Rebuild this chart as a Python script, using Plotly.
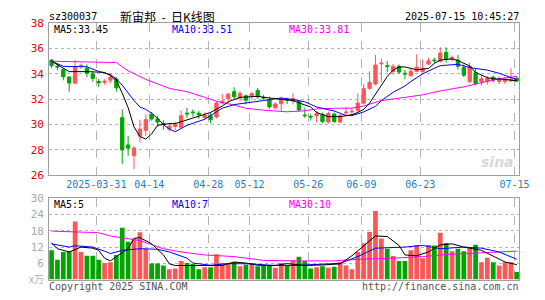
import plotly.graph_objects as go

W, H = 545, 300

dates = [
    "2025-03-19", "2025-03-20", "2025-03-21", "2025-03-24", "2025-03-25", "2025-03-26", "2025-03-27", "2025-03-28", "2025-03-31",
    "2025-04-01", "2025-04-02", "2025-04-03", "2025-04-07", "2025-04-08", "2025-04-09", "2025-04-10", "2025-04-11", "2025-04-14",
    "2025-04-15", "2025-04-16", "2025-04-17", "2025-04-18", "2025-04-21", "2025-04-22", "2025-04-23", "2025-04-24", "2025-04-25",
    "2025-04-28", "2025-04-29", "2025-04-30",
    "2025-05-06", "2025-05-07", "2025-05-08", "2025-05-09", "2025-05-12", "2025-05-13", "2025-05-14", "2025-05-15", "2025-05-16",
    "2025-05-19", "2025-05-20", "2025-05-21", "2025-05-22", "2025-05-23", "2025-05-26", "2025-05-27", "2025-05-28", "2025-05-29",
    "2025-05-30",
    "2025-06-03", "2025-06-04", "2025-06-05", "2025-06-06", "2025-06-09", "2025-06-10", "2025-06-11", "2025-06-12", "2025-06-13",
    "2025-06-16", "2025-06-17", "2025-06-18", "2025-06-19", "2025-06-20", "2025-06-23", "2025-06-24", "2025-06-25", "2025-06-26",
    "2025-06-27", "2025-06-30",
    "2025-07-01", "2025-07-02", "2025-07-03", "2025-07-04", "2025-07-07", "2025-07-08", "2025-07-09", "2025-07-10", "2025-07-11",
    "2025-07-14", "2025-07-15",
]

opens = [35.1, 34.6, 34.33, 33.75, 33.28, 34.62, 34.45, 34.0, 33.4, 33.35,
         33.5, 33.6, 30.55, 28.4, 27.55, 29.1, 29.55, 30.8, 30.45, 30.1,
         29.65, 29.85, 29.8, 30.9, 31.0, 30.9, 30.55, 30.7, 30.6, 31.7,
         32.05, 32.6, 32.1, 32.28, 32.28, 32.7, 32.15, 31.95, 31.33, 31.65,
         31.98, 31.85, 31.83, 30.75, 30.65, 30.7, 30.78, 30.2, 30.83, 30.2,
         30.93, 31.0, 31.1, 31.7, 32.85, 33.2, 34.8, 34.65, 34.2, 34.6,
         34.05, 33.85, 34.2, 34.2, 34.78, 35.1, 35.0, 35.7, 35.15, 35.1,
         34.5, 33.4, 34.1, 33.37, 33.4, 33.75, 33.4, 33.4, 33.45, 33.65]
highs = [35.15, 34.8, 34.45, 33.83, 35.1, 34.83, 34.75, 34.2, 33.6, 33.58,
         34.0, 33.75, 31.2, 29.1, 28.3, 30.4, 30.8, 31.0, 30.7, 30.35,
         30.13, 30.2, 31.1, 31.33, 31.2, 31.08, 30.95, 30.95, 31.85, 32.4,
         32.5, 32.95, 32.65, 32.35, 32.58, 32.9, 32.33, 32.2, 31.78, 32.2,
         32.13, 32.5, 31.95, 31.33, 30.83, 31.08, 30.95, 31.03, 30.95, 30.85,
         31.38, 31.33, 32.45, 33.2, 34.2, 35.5, 35.2, 35.03, 34.78, 34.75,
         34.33, 34.4, 35.55, 35.13, 35.28, 35.28, 36.1, 36.1, 35.45, 35.5,
         34.75, 34.9, 34.4, 33.9, 33.85, 33.85, 33.8, 33.75, 34.45, 33.8]
lows = [34.45, 34.3, 33.5, 32.6, 33.2, 34.4, 33.75, 33.38, 32.95, 33.15,
        33.3, 32.6, 26.9, 27.55, 26.5, 28.6, 29.1, 30.3, 29.85, 29.6,
        29.45, 29.58, 29.7, 30.53, 30.63, 30.45, 30.4, 30.1, 30.5, 31.6,
        31.7, 32.0, 31.85, 31.6, 31.95, 32.03, 31.95, 31.25, 31.2, 31.08,
        31.63, 31.58, 31.03, 30.53, 30.33, 30.2, 30.13, 30.08, 30.13, 30.1,
        30.63, 30.7, 31.03, 31.6, 32.78, 33.1, 33.38, 34.13, 33.95, 34.0,
        33.58, 33.8, 34.13, 34.08, 34.7, 34.83, 34.9, 34.9, 35.0, 34.35,
        33.75, 33.25, 33.1, 33.1, 33.15, 33.35, 33.2, 33.2, 33.35, 33.35]
closes = [34.65, 34.55, 33.78, 33.28, 34.58, 34.67, 34.05, 33.65, 33.3, 33.42,
          33.75, 32.9, 28.0, 28.15, 28.15, 29.65, 30.4, 30.45, 30.2, 30.05,
          29.88, 30.0, 30.7, 30.85, 30.95, 30.8, 30.75, 30.4, 31.7, 31.85,
          32.4, 32.2, 32.45, 31.93, 32.45, 32.2, 32.1, 31.4, 31.63, 32.03,
          31.93, 32.05, 31.15, 30.7, 30.6, 30.88, 30.25, 30.88, 30.25, 30.7,
          30.98, 31.05, 31.7, 32.83, 33.33, 34.7, 34.85, 34.6, 34.6, 34.15,
          34.0, 34.2, 34.53, 34.45, 35.03, 35.05, 35.65, 35.15, 35.3, 34.6,
          33.9, 34.6, 33.25, 33.62, 33.65, 33.5, 33.55, 33.55, 33.6, 33.45]
volumes = [10.8, 7.3, 10.2, 10.5, 21.4, 10.2, 8.8, 8.8, 7.3, 6.1,
           6.4, 9.1, 19.1, 14.0, 15.2, 17.5, 11.4, 5.9, 5.9, 5.2,
           3.8, 4.1, 6.9, 6.1, 5.8, 3.8, 4.6, 4.6, 9.4, 6.1,
           6.1, 6.5, 4.9, 5.5, 6.1, 4.9, 5.0, 5.0, 4.4, 6.1,
           5.2, 7.1, 8.4, 6.9, 4.1, 4.6, 4.9, 4.4, 4.7, 6.4,
           5.2, 3.8, 10.2, 13.4, 17.6, 25.3, 15.2, 11.4, 8.7, 6.9,
           6.9, 10.8, 12.8, 7.9, 12.8, 12.6, 17.3, 13.5, 10.5, 11.4,
           10.5, 11.6, 12.9, 6.4, 8.1, 6.4, 5.2, 6.4, 6.4, 2.8]

# moving-average lines (index, value)
ma5_idx = [0, 2, 3, 6, 9, 10, 11, 12, 13, 14, 15, 16, 17, 18, 20, 21, 23, 25, 27, 29, 30, 32, 34, 35, 37, 39,
           41, 42, 44, 45, 47, 49, 50, 51, 52, 53, 54, 55, 56, 57, 58, 59, 60, 61, 62, 64, 65, 66, 68, 69, 71,
           72, 74, 75, 77, 79]
ma5_val = [35.0, 34.43, 34.18, 34.18, 34.12, 33.87, 33.49, 32.48, 31.34, 29.82, 29.06, 28.86, 29.27, 29.95,
           30.08, 30.08, 30.38, 30.63, 30.96, 31.47, 31.8, 32.15, 32.2, 32.23, 32.1, 31.98, 31.9, 31.72, 31.39,
           30.96, 30.63, 30.63, 30.71, 30.78, 30.96, 31.2, 31.7, 32.4, 33.1, 33.8, 34.3, 34.55, 34.55, 34.43,
           34.33, 34.43, 34.83, 35.09, 35.19, 35.05, 34.63, 34.12, 33.7, 33.62, 33.57, 33.45]
ma10_idx = [0, 1, 2, 6, 8, 10, 11, 12, 13, 14, 15, 16, 17, 18, 19, 20, 21, 23, 26, 29, 31, 34, 36, 39, 41,
            43, 45, 48, 50, 51, 53, 55, 56, 58, 60, 61, 63, 65, 66, 69, 71, 74, 76, 79]
ma10_val = [35.0, 34.8, 34.6, 34.56, 34.2, 33.95, 33.6, 33.11, 32.5, 31.9, 31.39, 31.2, 30.9, 30.5, 30.0,
            29.65, 29.44, 29.95, 30.42, 31.3, 31.58, 31.74, 31.9, 32.1, 31.98, 31.8, 31.39, 31.07, 30.72,
            30.71, 31.0, 31.45, 31.9, 32.55, 33.05, 33.4, 34.0, 34.45, 34.65, 34.76, 34.5, 34.3, 34.05, 33.55]
ma30_idx = [0, 11, 13, 16, 20, 23, 26, 28, 31, 33, 36, 40, 43, 45, 48, 51, 53, 56, 60, 63, 66, 70, 73, 76, 79]
ma30_val = [35.0, 34.9, 34.25, 33.57, 32.86, 32.6, 32.15, 31.85, 31.54, 31.29, 31.14, 31.01, 31.09, 31.24,
            31.29, 31.3, 31.47, 31.9, 32.15, 32.35, 32.66, 32.98, 33.31, 33.62, 33.81]

vma5_idx = [0, 1, 3, 5, 7, 8, 9, 10, 11, 13, 14, 15, 17, 19, 20, 21, 26, 29, 31, 33, 35, 38, 40, 43, 46, 49,
            51, 54, 55, 57, 59, 60, 62, 64, 66, 68, 70, 73, 75, 77, 79]
vma5_val = [13.5, 11.4, 10.2, 12.0, 11.6, 10.8, 7.9, 6.9, 8.5, 11.4, 15.2, 15.5, 13.2, 9.1, 5.8, 5.2, 5.2,
            5.2, 6.5, 6.1, 5.3, 5.2, 5.9, 5.2, 5.4, 5.8, 8.8, 14.4, 16.1, 15.9, 12.6, 9.1, 8.8, 10.2, 12.8,
            13.2, 12.0, 10.8, 8.5, 6.5, 5.5]
vma10_idx = [0, 3, 4, 7, 9, 10, 12, 15, 18, 20, 23, 24, 27, 30, 34, 37, 41, 45, 49, 52, 55, 60, 63, 66, 70,
             73, 76, 79]
vma10_val = [13.2, 12.0, 12.5, 12.0, 10.5, 9.6, 10.8, 11.4, 11.2, 10.2, 7.9, 6.1, 5.3, 5.9, 5.8, 5.3, 5.2,
             5.5, 6.0, 8.5, 11.6, 12.0, 12.6, 11.4, 12.0, 11.6, 10.2, 7.5]
vma30_idx = [0, 5, 8, 10, 15, 19, 22, 26, 31, 36, 41, 48, 52, 58, 63, 68, 73, 79]
vma30_val = [17.9, 17.6, 17.3, 16.1, 14.4, 11.4, 10.2, 9.1, 8.5, 7.1, 6.9, 6.9, 7.5, 7.9, 8.5, 9.4, 10.0, 10.5]

tick_dates = ["2025-03-31", "2025-04-14", "2025-04-28", "2025-05-12", "2025-05-26",
              "2025-06-09", "2025-06-23", "2025-07-15"]
tick_text = ["2025-03-31", "04-14", "04-28", "05-12", "05-26", "06-09", "06-23", "07-15"]
price_ticks = [26, 28, 30, 32, 34, 36, 38]
vol_ticks = [6, 12, 18, 24, 30]

RED = "#ff5555"
GREEN = "#00a600"
MONO = "DejaVu Sans Mono"

x = list(range(len(dates)))
tick_pos = [dates.index(d) - 0.4 for d in tick_dates]
vol_colors = [RED if c >= o else GREEN for o, c in zip(opens, closes)]

fig = go.Figure()
fig.add_trace(go.Candlestick(
    x=x, open=opens, high=highs, low=lows, close=closes,
    increasing=dict(line=dict(color=RED, width=1), fillcolor=RED),
    decreasing=dict(line=dict(color=GREEN, width=1), fillcolor=GREEN),
    whiskerwidth=0, hoverinfo="skip", showlegend=False, xaxis="x", yaxis="y"))
fig.add_trace(go.Scatter(x=ma30_idx, y=ma30_val, mode="lines", line=dict(color="#ff00ff", width=1),
                         showlegend=False, hoverinfo="skip", xaxis="x", yaxis="y"))
fig.add_trace(go.Scatter(x=ma10_idx, y=ma10_val, mode="lines", line=dict(color="#0000ff", width=1),
                         showlegend=False, hoverinfo="skip", xaxis="x", yaxis="y"))
fig.add_trace(go.Scatter(x=ma5_idx, y=ma5_val, mode="lines", line=dict(color="#000000", width=1),
                         showlegend=False, hoverinfo="skip", xaxis="x", yaxis="y"))

fig.add_trace(go.Bar(x=x, y=volumes, marker=dict(color=vol_colors, line=dict(width=0)), width=0.8,
                     showlegend=False, hoverinfo="skip", xaxis="x2", yaxis="y2"))
fig.add_trace(go.Scatter(x=vma30_idx, y=vma30_val, mode="lines", line=dict(color="#ff00ff", width=1),
                         showlegend=False, hoverinfo="skip", xaxis="x2", yaxis="y2"))
fig.add_trace(go.Scatter(x=vma10_idx, y=vma10_val, mode="lines", line=dict(color="#0000ff", width=1),
                         showlegend=False, hoverinfo="skip", xaxis="x2", yaxis="y2"))
fig.add_trace(go.Scatter(x=vma5_idx, y=vma5_val, mode="lines", line=dict(color="#000000", width=1),
                         showlegend=False, hoverinfo="skip", xaxis="x2", yaxis="y2"))

xdom = [50 / W, 529 / W]
xrange = [-0.42, len(dates) - 0.58]
common_x = dict(domain=xdom, range=xrange, tickvals=tick_pos, showgrid=True, griddash="dash",
                gridcolor="#b4b4b4", gridwidth=1, showline=True, mirror=True, linecolor="#a0a0a0",
                linewidth=1, ticks="", zeroline=False, fixedrange=True)
fig.update_layout(
    width=W, height=H, margin=dict(l=0, r=0, t=0, b=0),
    paper_bgcolor="white", plot_bgcolor="white", boxgap=0.2, bargap=0.2,
    xaxis=dict(**common_x, anchor="y", ticktext=tick_text, showticklabels=True,
               tickfont=dict(family=MONO, size=10, color="#1a7fcf"),
               rangeslider=dict(visible=False)),
    xaxis2=dict(**common_x, anchor="y2", showticklabels=False, matches="x"),
    yaxis=dict(domain=[1 - 177 / H, 1 - 18 / H], range=[26, 38], tickvals=price_ticks,
               tickfont=dict(family=MONO, size=11, color="#ee0000"), showgrid=True, griddash="dot",
               gridcolor="#b4b4b4", showline=True, mirror=True, linecolor="#a0a0a0", ticks="",
               zeroline=False, anchor="x", ticklabelstandoff=2),
    yaxis2=dict(domain=[1 - 286 / H, 1 - 201 / H], range=[0, 30], tickvals=vol_ticks,
                tickfont=dict(family=MONO, size=11, color="#a8a8a8"), showgrid=True, griddash="dot",
                gridcolor="#b4b4b4", showline=True, mirror=True, linecolor="#a0a0a0", ticks="",
                zeroline=False, anchor="x2", ticklabelstandoff=2),
)


def txt(x, y, s, color="#000", size=10, family=MONO, anchor="left"):
    fig.add_annotation(x=x / W, y=1 - y / H, xref="paper", yref="paper", text=s, showarrow=False,
                       xanchor=anchor, yanchor="middle", borderpad=0,
                       font=dict(family=family, size=size, color=color))


txt(49, 11, "sz300037", size=10)
txt(171, 10.5, "新宙邦\u00a0\u00a0-\u00a0\u00a0日K线图", size=12, family="Noto Sans CJK SC", anchor="center")
txt(530, 11, "2025-07-15 10:45:27", size=10, anchor="right")
txt(54, 25, "MA5:33.45", color="#000000")
txt(174, 25, "MA10:33.51", color="#0000ff")
txt(293, 25, "MA30:33.81", color="#ff00ff")
txt(54, 207, "MA5:5", color="#000000")
txt(174, 207, "MA10:7", color="#0000ff")
txt(293, 207, "MA30:10", color="#ff00ff")
txt(46, 285, "x万", color="#b0b0b0", size=10, family="Noto Sans CJK SC", anchor="right")
txt(49, 293, "Copyright 2025 SINA.COM", color="#555555")
txt(530, 293, "http://finance.sina.com.cn", color="#555555", anchor="right")
fig.add_annotation(x=526 / W, y=1 - 163 / H, xref="paper", yref="paper", text="<b><i>sina</i></b>",
                   showarrow=False, xanchor="right", yanchor="middle",
                   font=dict(family="DejaVu Sans", size=14, color="#d8d8d8"))

fig.write_html("out.html")
